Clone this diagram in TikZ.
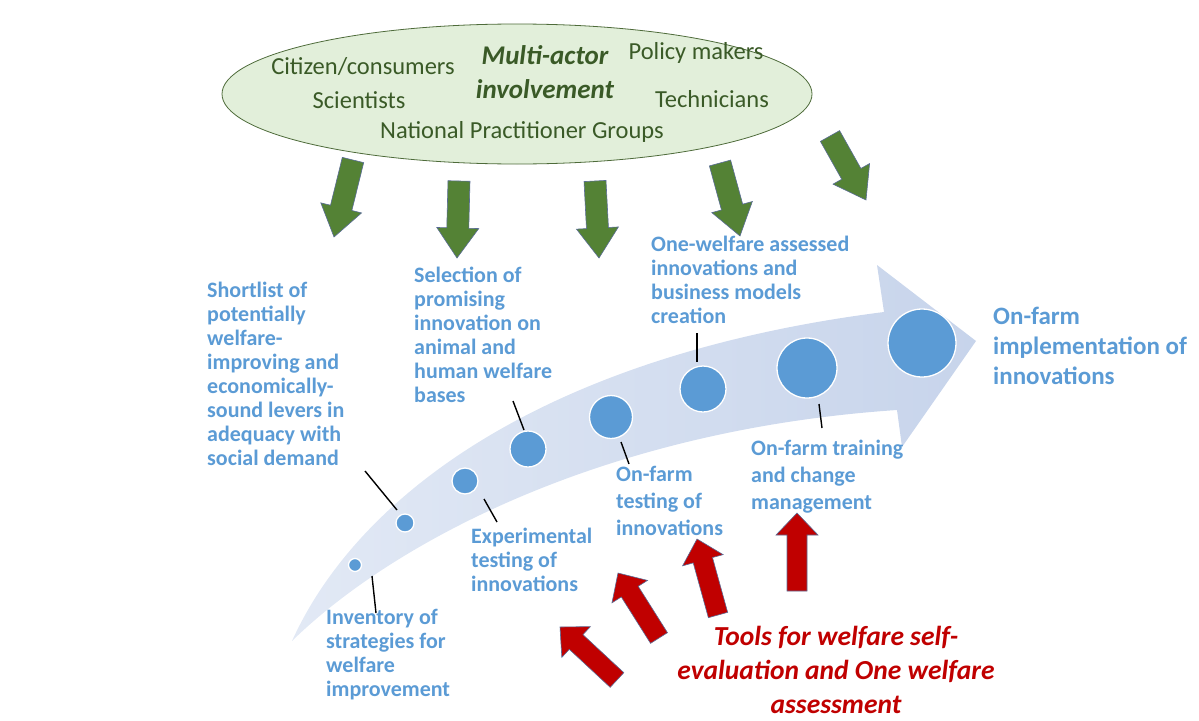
\documentclass[tikz,border=0pt]{standalone}
\usepackage{fontspec}
\setmainfont{Carlito}
\usetikzlibrary{calc,shapes.geometric}
\definecolor{ellfill}{HTML}{E2EFDA}
\definecolor{elldraw}{HTML}{4E6B3A}
\definecolor{darkgreen}{HTML}{3A5A27}
\definecolor{arrgreen}{HTML}{548235}
\definecolor{arrred}{HTML}{C00000}
\definecolor{arredge}{HTML}{5A6C96}
\definecolor{bluetext}{HTML}{5B9BD5}
\definecolor{bigleft}{HTML}{E2E9F5}
\definecolor{bigright}{HTML}{C7D4EB}
\newcommand\blockarrow[6]{% tail, tip, shaft half, head half, head length, style
  \coordinate (ba-h) at ($(#2)!#5pt!(#1)$);
  \path[#6] ($(#1)!#3pt!90:(#2)$) -- ($(ba-h)!#3pt!90:(#2)$) -- ($(ba-h)!#4pt!90:(#2)$)
    -- (#2) -- ($(ba-h)!#4pt!-90:(#2)$) -- ($(ba-h)!#3pt!-90:(#2)$) -- ($(#1)!#3pt!-90:(#2)$) -- cycle;
}
\tikzset{
  actor/.style={text=darkgreen, font=\fontsize{24.5}{28}\selectfont, inner sep=0pt, anchor=base},
  actortitle/.style={text=darkgreen, font=\fontsize{27}{34}\selectfont\bfseries\itshape, inner sep=0pt, anchor=base, align=center},
  stagelabel/.style={text=bluetext, font=\fontsize{22}{24}\selectfont\bfseries, inner sep=0pt, anchor=base west, align=left},
  stagelabelwide/.style={text=bluetext, font=\fontsize{22}{27}\selectfont\bfseries, inner sep=0pt, anchor=base west, align=left},
  goal/.style={text=bluetext, font=\fontsize{25}{30}\selectfont\bfseries, inner sep=0pt, anchor=base west, align=left},
  tools/.style={text=arrred, font=\fontsize{27.5}{34}\selectfont\bfseries\itshape, inner sep=0pt, anchor=base, align=center},
  stage/.style={circle, fill=bluetext, draw=white, line width=1.3pt, inner sep=0pt},
  leader/.style={draw=black, line width=1.4pt},
  greenarrow/.style={fill=arrgreen, draw=arredge, line width=0.6pt},
  redarrow/.style={fill=arrred, draw=arredge, line width=0.6pt},
}
\begin{document}
\begin{tikzpicture}[x=1pt, y=-1pt]
\useasboundingbox (0,0) rectangle (1199,720);

% big curved arrow
\path[left color=bigleft, right color=bigright, shading angle=90]
  (292,641) .. controls (358,495) and (545,355) .. (884,312) -- (877,265) -- (976,341)
  -- (902,447) -- (897,410) .. controls (600,430) and (390,545) .. (292,641) -- cycle;

% ellipse of actors
\node[ellipse, fill=ellfill, draw=elldraw, line width=0.8pt, minimum width=590pt, minimum height=140pt, inner sep=0pt] (actors) at (517,94) {};
\node[actor] (citizen) at (363,74) {Citizen/consumers};
\node[actortitle] (multi) at (545,98) {Multi-actor\\involvement};
\node[actor] (policy) at (696,59) {Policy makers};
\node[actor] (scient) at (359,108) {Scientists};
\node[actor] (techn) at (712,107) {Technicians};
\node[actor] (npg) at (522,138) {National Practitioner Groups};

% green arrows
\blockarrow{353,160}{334,237}{11}{21}{30}{greenarrow}
\blockarrow{459,181}{457,258}{11}{21}{30}{greenarrow}
\blockarrow{595,181}{599,258}{11}{21}{30}{greenarrow}
\blockarrow{720,163}{740,236}{11}{21}{30}{greenarrow}
\blockarrow{830,136}{866,200}{11}{21}{30}{greenarrow}

% stage circles
\node[stage, minimum size=13pt] (s1) at (355,565) {};
\node[stage, minimum size=18pt] (s2) at (405,523) {};
\node[stage, minimum size=26pt] (s3) at (465,481) {};
\node[stage, minimum size=36pt] (s4) at (528,449) {};
\node[stage, minimum size=43pt] (s5) at (611,417) {};
\node[stage, minimum size=46pt] (s6) at (703,389) {};
\node[stage, minimum size=60pt] (s7) at (807,368) {};
\node[stage, minimum size=68pt] (s8) at (922,343) {};

% labels (anchor = baseline of the last line)
\node[stagelabel] (shortlist) at (207,465) {Shortlist of\\potentially\\welfare-\\improving and\\economically-\\sound levers in\\adequacy with\\social demand};
\node[stagelabel] (selection) at (414,402) {Selection of\\promising\\innovation on\\animal and\\human welfare\\bases};
\node[stagelabel] (onewelfare) at (651,323) {One-welfare assessed\\innovations and\\business models\\creation};
\node[stagelabelwide] (training) at (751,509) {On-farm training\\and change\\management};
\node[stagelabelwide] (farmtest) at (616,535) {On-farm\\testing of\\innovations};
\node[stagelabel] (experim) at (471,591) {Experimental\\testing of\\innovations};
\node[stagelabel] (inventory) at (326,696) {Inventory of\\strategies for\\welfare\\improvement};
\node[goal] (implement) at (993,384) {On-farm\\implementation of\\innovations};
\node[tools] (toolstext) at (836,713) {Tools for welfare self-\\evaluation and One welfare\\assessment};

% leader lines
\coordinate (l1a) at (365,471); \coordinate (l1b) at (397,510);
\coordinate (l2a) at (372,576); \coordinate (l2b) at (376,613);
\coordinate (l3a) at (484,499); \coordinate (l3b) at (497,522);
\coordinate (l4a) at (513,401); \coordinate (l4b) at (524,430);
\coordinate (l5a) at (621,442); \coordinate (l5b) at (629,464);
\coordinate (l6a) at (697,333); \coordinate (l6b) at (697,362);
\coordinate (l7a) at (819,404); \coordinate (l7b) at (822,428);
\draw[leader] (l1a) -- (l1b);
\draw[leader] (l2a) -- (l2b);
\draw[leader] (l3a) -- (l3b);
\draw[leader] (l4a) -- (l4b);
\draw[leader] (l5a) -- (l5b);
\draw[leader] (l6a) -- (l6b);
\draw[leader] (l7a) -- (l7b);

% red arrows
\blockarrow{617,680}{560,627}{10}{21}{22}{redarrow}
\blockarrow{659,638}{618,573}{10}{21}{22}{redarrow}
\blockarrow{718,615}{697,539}{10}{21}{22}{redarrow}
\blockarrow{797,591}{797,513}{10}{21}{22}{redarrow}
\end{tikzpicture}
\end{document}
